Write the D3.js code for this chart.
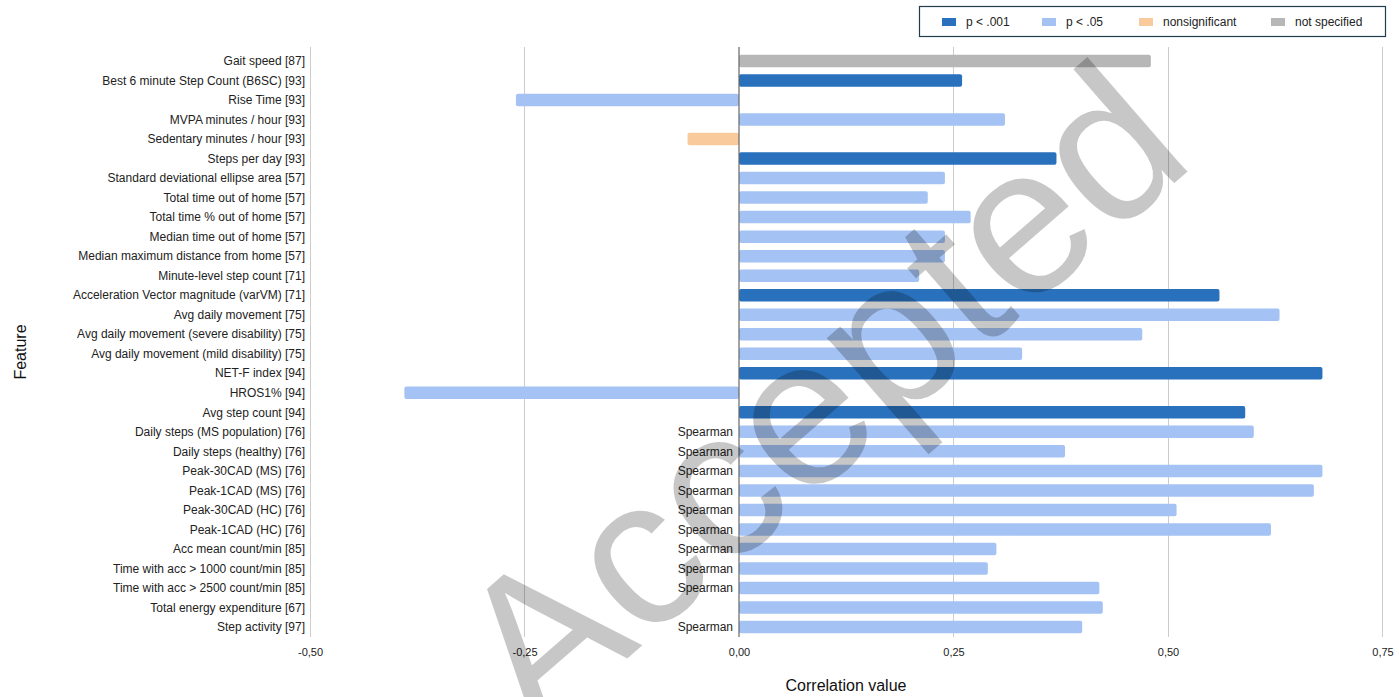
<!DOCTYPE html>
<html><head><meta charset="utf-8">
<script src="https://cdn.jsdelivr.net/npm/d3@7"></script>
<style>body{margin:0;background:#fff}svg{display:block;font-family:Arial,"Liberation Sans",sans-serif}</style>
</head><body><svg id="c" width="1399" height="697"></svg>
<script>
const features = ["Gait speed [87]","Best 6 minute Step Count (B6SC) [93]","Rise Time [93]","MVPA minutes / hour [93]","Sedentary minutes / hour [93]","Steps per day [93]","Standard deviational ellipse area [57]","Total time out of home [57]","Total time % out of home [57]","Median time out of home [57]","Median maximum distance from home [57]","Minute-level step count [71]","Acceleration Vector magnitude (varVM) [71]","Avg daily movement [75]","Avg daily movement (severe disability) [75]","Avg daily movement (mild disability) [75]","NET-F index [94]","HROS1% [94]","Avg step count [94]","Daily steps (MS population) [76]","Daily steps (healthy) [76]","Peak-30CAD (MS) [76]","Peak-1CAD (MS) [76]","Peak-30CAD (HC) [76]","Peak-1CAD (HC) [76]","Acc mean count/min [85]","Time with acc > 1000 count/min [85]","Time with acc > 2500 count/min [85]","Total energy expenditure [67]","Step activity [97]"];
const values = [0.48,0.26,-0.26,0.31,-0.06,0.37,0.24,0.22,0.27,0.24,0.24,0.21,0.56,0.63,0.47,0.33,0.68,-0.39,0.59,0.60,0.38,0.68,0.67,0.51,0.62,0.30,0.29,0.42,0.424,0.40];
const significance = ["ns-spec","p001","p05","p05","nonsig","p001","p05","p05","p05","p05","p05","p05","p001","p05","p05","p05","p001","p05","p001","p05","p05","p05","p05","p05","p05","p05","p05","p05","p05","p05"];
const methodNotes = ["","","","","","","","","","","","","","","","","","","","Spearman","Spearman","Spearman","Spearman","Spearman","Spearman","Spearman","Spearman","Spearman","","Spearman"];
const legendKeys = ["p001","p05","nonsig","ns-spec"];
const legendLabels = ["p < .001","p < .05","nonsignificant","not specified"];
const xTicks = [-0.5,-0.25,0,0.25,0.5,0.75];
const tickLabels = ["-0,50","-0,25","0,00","0,25","0,50","0,75"];

const colors = {"p001":"#2971bd","p05":"#a4c2f4","nonsig":"#f9cb9c","ns-spec":"#b7b7b7"};
const svg = d3.select("#c");
const x = d3.scaleLinear().domain([-0.5,0.75]).range([310,1382.5]);
const y = d3.scaleBand().domain(features).range([51.2,636.8]).paddingInner(0.36).paddingOuter(0.18);
const plotTop = 47, plotBottom = 637;

// gridlines
svg.append("g").selectAll("line").data(xTicks.filter(d=>d!==0)).join("line")
  .attr("x1",d=>x(d)).attr("x2",d=>x(d)).attr("y1",plotTop).attr("y2",plotBottom)
  .attr("stroke","#cccccc").attr("stroke-width",1).attr("shape-rendering","crispEdges");

// bars
svg.append("g").selectAll("rect").data(features).join("rect")
  .attr("x",(d,i)=>x(Math.min(0,values[i])))
  .attr("width",(d,i)=>Math.abs(x(values[i])-x(0)))
  .attr("y",d=>y(d)).attr("height",y.bandwidth())
  .attr("rx",2).attr("fill",(d,i)=>colors[significance[i]]);

// zero line
svg.append("line").attr("x1",x(0)).attr("x2",x(0)).attr("y1",plotTop).attr("y2",plotBottom)
  .attr("stroke","#666").attr("stroke-width",1.2);

// category labels
svg.append("g").selectAll("text").data(features).join("text")
  .attr("x",305).attr("y",d=>y(d)+y.bandwidth()/2).attr("dy","0.35em")
  .attr("text-anchor","end").attr("font-size",12).attr("fill","#222").text(d=>d);

// spearman notes
svg.append("g").selectAll("text").data(features.filter((d,i)=>methodNotes[i])).join("text")
  .attr("x",x(0)-6).attr("y",d=>y(d)+y.bandwidth()/2).attr("dy","0.35em")
  .attr("text-anchor","end").attr("font-size",12).attr("fill","#222")
  .text(d=>methodNotes[features.indexOf(d)]);

// x axis tick labels
const xAxis = d3.axisBottom(x).tickValues(xTicks).tickSize(0).tickFormat((d,i)=>tickLabels[i]);
const ax = svg.append("g").attr("transform",`translate(0,${plotBottom+8})`).call(xAxis);
ax.select(".domain").remove();
ax.selectAll("text").attr("font-size",11).attr("fill","#222").attr("font-family","Arial, 'Liberation Sans', sans-serif");

// axis titles
svg.append("text").attr("x",846).attr("y",691).attr("text-anchor","middle").attr("font-size",16).attr("fill","#111").text("Correlation value");
svg.append("text").attr("transform","translate(26,352) rotate(-90)").attr("text-anchor","middle").attr("font-size",16).attr("fill","#111").text("Feature");

// legend
svg.append("rect").attr("x",919.5).attr("y",6.5).attr("width",466).attr("height",30)
  .attr("fill","#fff").attr("stroke","#1f3d4f").attr("stroke-width",1.2);
const lgX = [942,1042,1139,1271];
const lg = svg.append("g").selectAll("g").data(legendKeys).join("g")
  .attr("transform",(d,i)=>`translate(${lgX[i]},0)`);
lg.append("rect").attr("x",0).attr("y",18).attr("width",14).attr("height",8).attr("fill",d=>colors[d]);
lg.append("text").attr("x",24).attr("y",26).attr("font-size",12).attr("fill","#222").text((d,i)=>legendLabels[i]);

// watermark
svg.append("text").attr("transform","translate(537,737) rotate(-41)")
  .attr("font-size",210).attr("fill","#000").attr("fill-opacity",0.22)
  .attr("font-family","Arial, 'Liberation Sans', sans-serif").text("Accepted");
</script></body></html>
